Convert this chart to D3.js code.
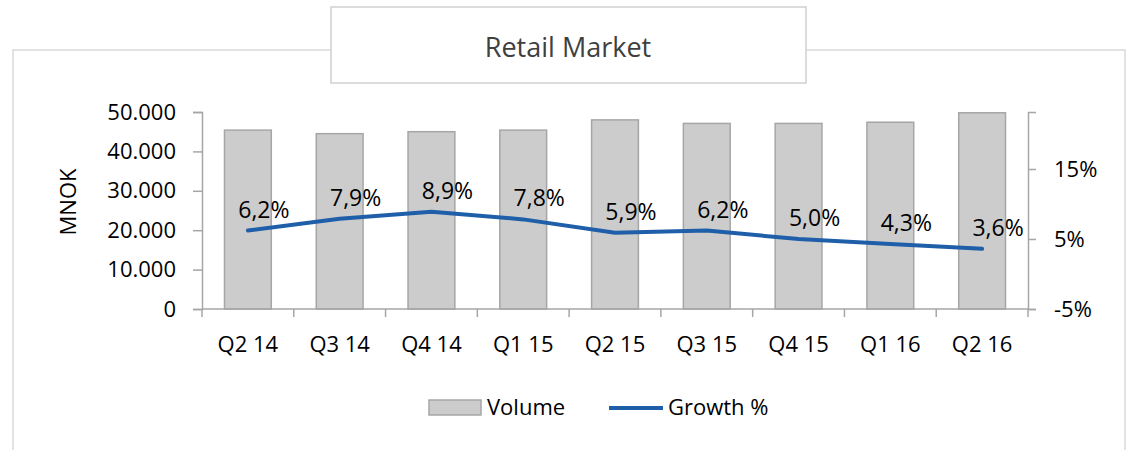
<!DOCTYPE html>
<html>
<head>
<meta charset="utf-8">
<script src="https://cdn.jsdelivr.net/npm/d3@7"></script>
<style>
  body { margin: 0; background: #fff; }
  svg { display: block; font-family: "Open Sans", sans-serif; }
</style>
</head>
<body>
<svg width="1128" height="450"></svg>
<script>
// data
const quarters = ["Q2 14", "Q3 14", "Q4 14", "Q1 15", "Q2 15", "Q3 15", "Q4 15", "Q1 16", "Q2 16"];
const volume = [45400, 44500, 45000, 45400, 48000, 47100, 47100, 47400, 49800];
const growth = [6.2, 7.9, 8.9, 7.8, 5.9, 6.2, 5.0, 4.3, 3.6];
const volumeTicks = [0, 10000, 20000, 30000, 40000, 50000];
const growthTicks = [-5, 5, 15];

const svg = d3.select("svg");
const locale = d3.formatLocale({ decimal: ",", thousands: ".", grouping: [3], currency: ["", ""] });
const fmtVol = locale.format(",");
const fmtPct = v => locale.format(".1f")(v) + "%";
const fmtTick = v => v + "%";

const axisColor = "#a6a6a6";
const barFill = "#cccccc";
const lineColor = "#1f5ea8";

// outer frame and title box
svg.append("rect")
    .attr("x", 13).attr("y", 50)
    .attr("width", 1112).attr("height", 430)
    .attr("fill", "#fff")
    .attr("stroke", "#d9d9d9").attr("stroke-width", 1.5);

svg.append("rect")
    .attr("x", 331).attr("y", 7)
    .attr("width", 475).attr("height", 76)
    .attr("fill", "#fff")
    .attr("stroke", "#d0d0d0").attr("stroke-width", 1.5);

svg.append("text")
    .attr("x", 568).attr("y", 57)
    .attr("text-anchor", "middle")
    .attr("font-size", 27)
    .attr("fill", "#404040")
    .text("Retail Market");

const plotL = 202, plotR = 1028, plotT = 112, plotB = 309;

const x = d3.scaleBand()
    .domain(quarters)
    .range([plotL, plotR])
    .paddingInner(0.49)
    .paddingOuter(0.245);

const yL = d3.scaleLinear().domain([0, 50000]).range([plotB, plotT]);
const yR = d3.scaleLinear().domain([-5, 23.14]).range([plotB, plotT]);

// bars
svg.append("g").selectAll("rect")
    .data(quarters)
    .join("rect")
    .attr("x", d => x(d))
    .attr("y", (d, i) => yL(volume[i]))
    .attr("width", x.bandwidth())
    .attr("height", (d, i) => plotB - yL(volume[i]))
    .attr("fill", barFill)
    .attr("stroke", axisColor)
    .attr("stroke-width", 1.5);

// left axis
const gL = svg.append("g")
    .attr("transform", `translate(${plotL},0)`)
    .call(d3.axisLeft(yL).tickValues(volumeTicks).tickFormat(fmtVol).tickSize(9).tickPadding(17));
gL.select(".domain").attr("stroke", axisColor).attr("stroke-width", 1.5);
gL.selectAll(".tick line").attr("stroke", axisColor).attr("stroke-width", 1.5);
gL.selectAll(".tick text").attr("font-size", 22).attr("fill", "#000")
    .attr("font-family", "'Open Sans', sans-serif");

// right axis
const gR = svg.append("g")
    .attr("transform", `translate(${plotR},0)`)
    .call(d3.axisRight(yR).tickValues(growthTicks).tickFormat(fmtTick).tickSize(8).tickPadding(18));
gR.select(".domain").attr("stroke", axisColor).attr("stroke-width", 1.5);
gR.selectAll(".tick line").attr("stroke", axisColor).attr("stroke-width", 1.5);
gR.selectAll(".tick text").attr("font-size", 22).attr("fill", "#000")
    .attr("font-family", "'Open Sans', sans-serif");

// x axis: line, ticks between categories, labels
const gX = svg.append("g");
gX.append("line")
    .attr("x1", plotL).attr("x2", plotR)
    .attr("y1", plotB).attr("y2", plotB)
    .attr("stroke", axisColor).attr("stroke-width", 1.5);
const step = x.step();
const bounds = quarters.map(q => x(q) - (step - x.bandwidth()) / 2).concat([plotR]);
gX.selectAll(".xt")
    .data(bounds)
    .join("line")
    .attr("class", "xt")
    .attr("x1", d => d).attr("x2", d => d)
    .attr("y1", plotB).attr("y2", plotB + 8)
    .attr("stroke", axisColor).attr("stroke-width", 1.5);
gX.selectAll(".xl")
    .data(quarters)
    .join("text")
    .attr("class", "xl")
    .attr("x", d => x(d) + x.bandwidth() / 2)
    .attr("y", 352)
    .attr("text-anchor", "middle")
    .attr("font-size", 22)
    .text(d => d);

// y title
svg.append("text")
    .attr("transform", "translate(76,202) rotate(-90)")
    .attr("text-anchor", "middle")
    .attr("font-size", 22)
    .text("MNOK");

// growth line
const line = d3.line()
    .x((d, i) => x(quarters[i]) + x.bandwidth() / 2)
    .y(d => yR(d));

svg.append("path")
    .datum(growth)
    .attr("d", line)
    .attr("fill", "none")
    .attr("stroke", lineColor)
    .attr("stroke-width", 4)
    .attr("stroke-linejoin", "round")
    .attr("stroke-linecap", "round");

svg.append("g").selectAll("text")
    .data(growth)
    .join("text")
    .attr("x", (d, i) => x(quarters[i]) + x.bandwidth() / 2 + 16)
    .attr("y", d => yR(d) - 13)
    .attr("text-anchor", "middle")
    .attr("font-size", 23)
    .text(d => fmtPct(d));

// legend
const lg = svg.append("g");
lg.append("rect")
    .attr("x", 429).attr("y", 400)
    .attr("width", 52).attr("height", 15)
    .attr("fill", barFill).attr("stroke", axisColor).attr("stroke-width", 1.5);
lg.append("text")
    .attr("x", 487).attr("y", 415)
    .attr("font-size", 22)
    .text("Volume");
lg.append("line")
    .attr("x1", 609).attr("x2", 663)
    .attr("y1", 408).attr("y2", 408)
    .attr("stroke", lineColor).attr("stroke-width", 4);
lg.append("text")
    .attr("x", 668).attr("y", 415)
    .attr("font-size", 22)
    .text("Growth %");
</script>
</body>
</html>
